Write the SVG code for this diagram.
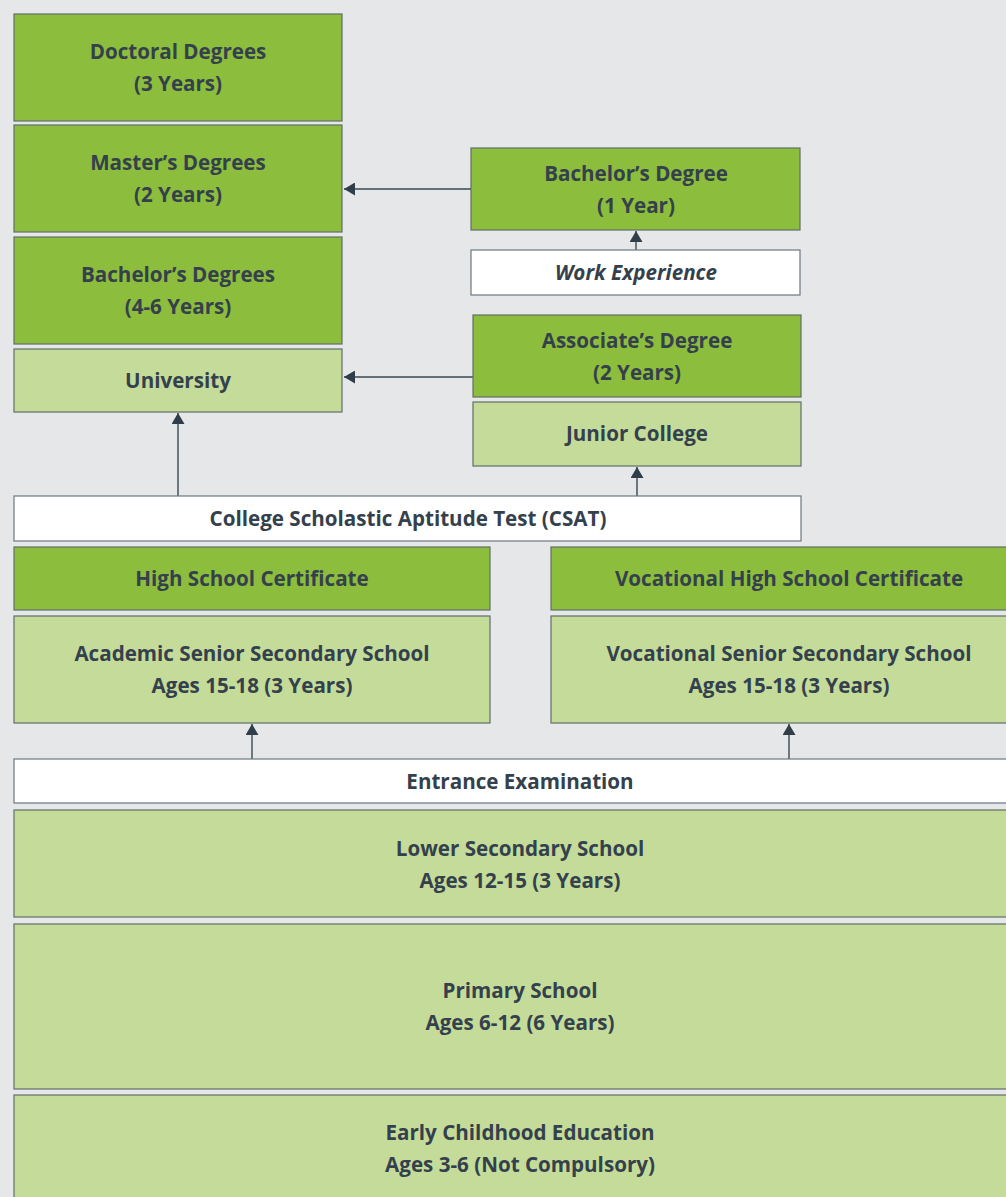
<svg xmlns="http://www.w3.org/2000/svg" width="1006" height="1197" viewBox="0 0 1006 1197">
<style>
.dk{fill:#8dbd3c;stroke:#5f6f6a;stroke-width:1.2}
.lt{fill:#c4db9a;stroke:#5f6f6a;stroke-width:1.2}
.wh{fill:#ffffff;stroke:#6b7780;stroke-width:1.2}
text{font-family:"Open Sans","Noto Sans",sans-serif;font-weight:700;font-size:20.6px;fill:#34414c;text-anchor:middle}
.it{font-style:italic}
.cn{stroke:#3a4852;stroke-width:1.4;fill:none}
</style>
<defs>
<marker id="ah" viewBox="0 0 11 13" refX="11" refY="6.5" markerWidth="11" markerHeight="13" markerUnits="userSpaceOnUse" orient="auto">
<path d="M0,0 L11,6.5 L0,13 z" fill="#2f3e48"/>
</marker>
</defs>
<rect width="1006" height="1197" fill="#e6e7e9"/>
<g id="connectors">
<path class="cn" d="M471,189 H344" marker-end="url(#ah)"/>
<path class="cn" d="M473,377 H344" marker-end="url(#ah)"/>
<path class="cn" d="M636,250 V231" marker-end="url(#ah)"/>
<path class="cn" d="M637,496 V467" marker-end="url(#ah)"/>
<path class="cn" d="M178,496 V413" marker-end="url(#ah)"/>
<path class="cn" d="M252,759 V724" marker-end="url(#ah)"/>
<path class="cn" d="M789,759 V724" marker-end="url(#ah)"/>
</g>
<g id="doctoral"><rect class="dk" x="14" y="14" width="328" height="107"/><text x="178" y="59">Doctoral Degrees</text><text x="178" y="91">(3 Years)</text></g>
<g id="masters"><rect class="dk" x="14" y="125" width="328" height="107"/><text x="178" y="170">Master’s Degrees</text><text x="178" y="202">(2 Years)</text></g>
<g id="bachelors"><rect class="dk" x="14" y="237" width="328" height="107"/><text x="178" y="282">Bachelor’s Degrees</text><text x="178" y="314">(4-6 Years)</text></g>
<g id="university"><rect class="lt" x="14" y="349" width="328" height="63"/><text x="178" y="388">University</text></g>
<g id="bachelor1"><rect class="dk" x="471" y="148" width="329" height="82"/><text x="636" y="181">Bachelor’s Degree</text><text x="636" y="213">(1 Year)</text></g>
<g id="work"><rect class="wh" x="471" y="250" width="329" height="45"/><text class="it" x="636" y="280">Work Experience</text></g>
<g id="associate"><rect class="dk" x="473" y="315" width="328" height="82"/><text x="637" y="348">Associate’s Degree</text><text x="637" y="380">(2 Years)</text></g>
<g id="junior"><rect class="lt" x="473" y="402" width="328" height="64"/><text x="637" y="441">Junior College</text></g>
<g id="csat"><rect class="wh" x="14" y="496" width="787" height="45"/><text x="408" y="526">College Scholastic Aptitude Test (CSAT)</text></g>
<g id="hsc"><rect class="dk" x="14" y="547" width="476" height="63"/><text x="252" y="586">High School Certificate</text></g>
<g id="academic"><rect class="lt" x="14" y="616" width="476" height="107"/><text x="252" y="661">Academic Senior Secondary School</text><text x="252" y="693">Ages 15-18 (3 Years)</text></g>
<g id="vhsc"><rect class="dk" x="551" y="547" width="460" height="63"/><text x="789" y="586">Vocational High School Certificate</text></g>
<g id="vocational"><rect class="lt" x="551" y="616" width="460" height="107"/><text x="789" y="661">Vocational Senior Secondary School</text><text x="789" y="693">Ages 15-18 (3 Years)</text></g>
<g id="entrance"><rect class="wh" x="14" y="759" width="997" height="44"/><text x="520" y="789">Entrance Examination</text></g>
<g id="lower"><rect class="lt" x="14" y="810" width="997" height="107"/><text x="520" y="856">Lower Secondary School</text><text x="520" y="888">Ages 12-15 (3 Years)</text></g>
<g id="primary"><rect class="lt" x="14" y="924" width="997" height="165"/><text x="520" y="998">Primary School</text><text x="520" y="1030">Ages 6-12 (6 Years)</text></g>
<g id="early"><rect class="lt" x="14" y="1095" width="997" height="110"/><text x="520" y="1140">Early Childhood Education</text><text x="520" y="1172">Ages 3-6 (Not Compulsory)</text></g>
</svg>
